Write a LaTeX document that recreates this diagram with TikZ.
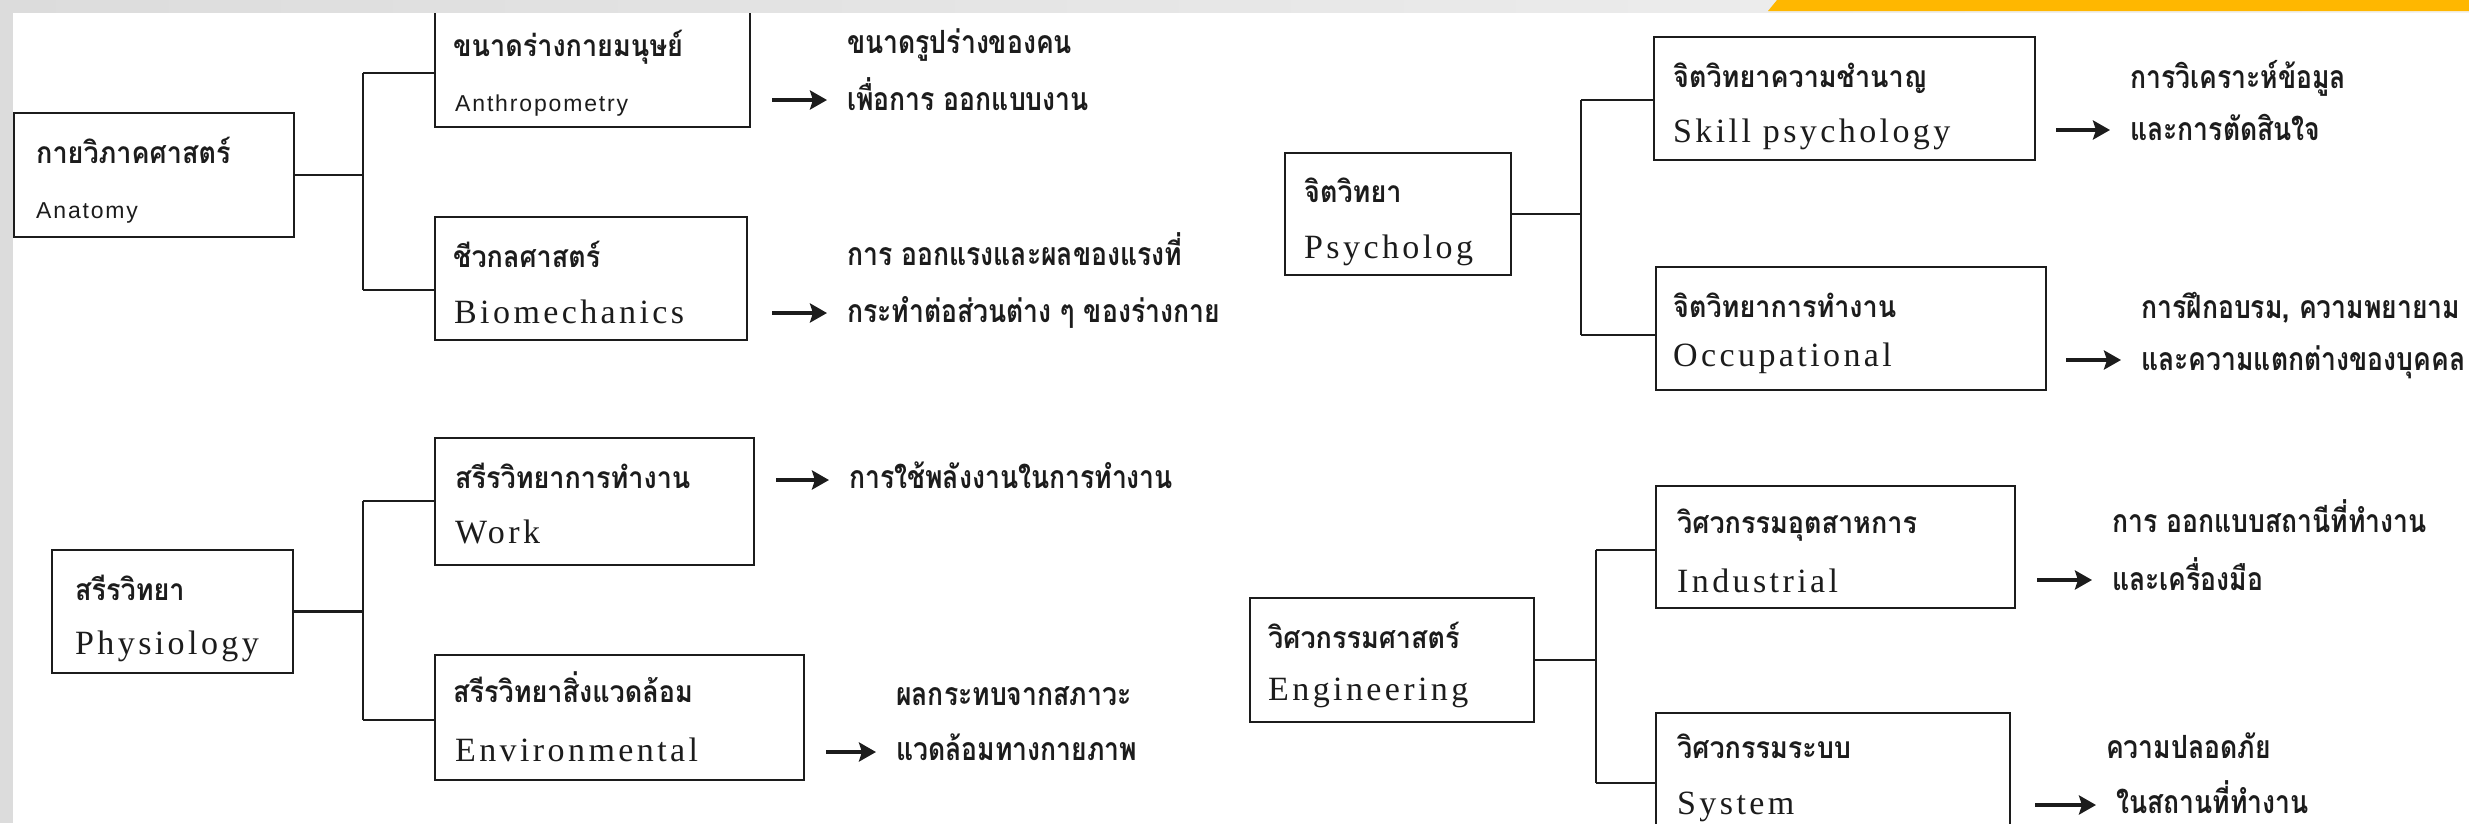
\documentclass[tikz,border=0pt]{standalone}
\usepackage{fontspec}
\usetikzlibrary{arrows.meta,fit}
\newfontfamily\thaititlefont[Script=Thai,FakeStretch=0.9]{Loma}
\newfontfamily\thaidescfont[Script=Thai,FakeStretch=0.83]{Loma}
\newfontfamily\serifen[LetterSpace=10]{Liberation Serif}
\newfontfamily\sansen[LetterSpace=8]{Liberation Sans}
\definecolor{ink}{HTML}{1C1C1C}
\definecolor{bandgray}{HTML}{DCDCDC}
\definecolor{bandlight}{HTML}{F2F2F2}
\definecolor{barorange}{HTML}{FFB700}
\tikzset{
  box/.style={draw=ink, line width=2.6pt, inner sep=0pt, rectangle},
  conn/.style={draw=ink, line width=2.6pt},
  arr/.style={draw=ink, line width=4pt, -{Stealth[length=17pt,width=19pt,inset=3pt]}, shorten >=20pt},
  thtitle/.style={anchor=base west, inner sep=0pt, text=ink, font=\thaititlefont\bfseries\fontsize{30}{32}\selectfont},
  thdesc/.style={anchor=base west, inner sep=0pt, text=ink, font=\thaidescfont\bfseries\fontsize{32}{34}\selectfont},
  sertxt/.style={anchor=base west, inner sep=0pt, text=ink, font=\serifen\fontsize{34}{36}\selectfont},
  sanstxt/.style={anchor=base west, inner sep=0pt, text=ink, font=\sansen\fontsize{23}{25}\selectfont},
}
\begin{document}
\begin{tikzpicture}[x=1pt,y=-1pt]
\useasboundingbox (0,0) rectangle (2469,823);
\begin{scope}
\clip (0,0) rectangle (2469,823);
\fill[white] (0,0) rectangle (2469,823);

% ---------- boxes ----------
\node[box, fit={(14,113) (294,237)}] (anat) {};
\node[box, fit={(435,-5) (750,127)}] (anth) {};
\node[box, fit={(435,217) (747,340)}] (bio) {};
\node[box, fit={(52,550) (293,673)}] (phys) {};
\node[box, fit={(435,438) (754,565)}] (work) {};
\node[box, fit={(435,655) (804,780)}] (env) {};
\node[box, fit={(1285,153) (1511,275)}] (psy) {};
\node[box, fit={(1654,37) (2035,160)}] (skill) {};
\node[box, fit={(1656,267) (2046,390)}] (occ) {};
\node[box, fit={(1250,598) (1534,722)}] (eng) {};
\node[box, fit={(1656,486) (2015,608)}] (ind) {};
\node[box, fit={(1656,713) (2010,860)}] (sys) {};

% ---------- box texts ----------
\node[thtitle] (anatT) at (36,163) {กายวิภาคศาสตร์};
\node[sanstxt] (anatE) at (36,218) {Anatomy};
\node[thtitle] (anthT) at (453,56) {ขนาดร่างกายมนุษย์};
\node[sanstxt] (anthE) at (455,111) {Anthropometry};
\node[thtitle] (bioT) at (453,267) {ชีวกลศาสตร์};
\node[sertxt] (bioE) at (454,323) {Biomechanics};
\node[thtitle] (physT) at (75,600) {สรีรวิทยา};
\node[sertxt] (physE) at (75,654) {Physiology};
\node[thtitle] (workT) at (455,488) {สรีรวิทยาการทำงาน};
\node[sertxt] (workE) at (455,543) {Work};
\node[thtitle] (envT) at (453,702) {สรีรวิทยาสิ่งแวดล้อม};
\node[sertxt] (envE) at (455,761) {Environmental};
\node[thtitle] (psyT) at (1304,202) {จิตวิทยา};
\node[sertxt] (psyE) at (1304,258) {Psycholog};
\node[thtitle] (skillT) at (1673,87) {จิตวิทยาความชำนาญ};
\node[sertxt] (skillE) at (1673,142) {Skill psychology};
\node[thtitle] (occT) at (1673,317) {จิตวิทยาการทำงาน};
\node[sertxt] (occE) at (1673,366) {Occupational};
\node[thtitle] (engT) at (1268,648) {วิศวกรรมศาสตร์};
\node[sertxt] (engE) at (1268,700) {Engineering};
\node[thtitle] (indT) at (1677,533) {วิศวกรรมอุตสาหการ};
\node[sertxt] (indE) at (1677,592) {Industrial};
\node[thtitle] (sysT) at (1677,758) {วิศวกรรมระบบ};
\node[sertxt] (sysE) at (1677,814) {System};

% ---------- descriptions ----------
\node[thdesc] (d1a) at (847,53) {ขนาดรูปร่างของคน};
\node[thdesc] (d1b) at (847,110) {เพื่อการ ออกแบบงาน};
\node[thdesc] (d2a) at (847,265) {การ ออกแรงและผลของแรงที่};
\node[thdesc] (d2b) at (847,322) {กระทำต่อส่วนต่าง ๆ ของร่างกาย};
\node[thdesc] (d3b) at (849,488) {การใช้พลังงานในการทำงาน};
\node[thdesc] (d4a) at (896,705) {ผลกระทบจากสภาวะ};
\node[thdesc] (d4b) at (896,760) {แวดล้อมทางกายภาพ};
\node[thdesc] (d5a) at (2130,88) {การวิเคราะห์ข้อมูล};
\node[thdesc] (d5b) at (2130,140) {และการตัดสินใจ};
\node[thdesc] (d6a) at (2141,318) {การฝึกอบรม, ความพยายาม};
\node[thdesc] (d6b) at (2141,370) {และความแตกต่างของบุคคล};
\node[thdesc] (d7a) at (2112,532) {การ ออกแบบสถานีที่ทำงาน};
\node[thdesc] (d7b) at (2112,590) {และเครื่องมือ};
\node[thdesc] (d8a) at (2106,758) {ความปลอดภัย};
\node[thdesc] (d8b) at (2116,813) {ในสถานที่ทำงาน};

% ---------- tree connectors ----------
\coordinate (a1) at (363,73);  \coordinate (a2) at (363,290);
\coordinate (p1) at (363,501); \coordinate (p2) at (363,720);
\coordinate (s1) at (1581,100); \coordinate (s2) at (1581,335);
\coordinate (e1) at (1596,550); \coordinate (e2) at (1596,783);

\draw[conn] (anat.east) -- (anat.east -| a1);
\draw[conn] (a1) -- (a2);
\draw[conn] (a1) -- (a1 -| anth.west);
\draw[conn] (a2) -- (a2 -| bio.west);

\draw[conn] (phys.east) -- (phys.east -| p1);
\draw[conn] (p1) -- (p2);
\draw[conn] (p1) -- (p1 -| work.west);
\draw[conn] (p2) -- (p2 -| env.west);

\draw[conn] (psy.east) -- (psy.east -| s1);
\draw[conn] (s1) -- (s2);
\draw[conn] (s1) -- (s1 -| skill.west);
\draw[conn] (s2) -- (s2 -| occ.west);

\draw[conn] (eng.east) -- (eng.east -| e1);
\draw[conn] (e1) -- (e2);
\draw[conn] (e1) -- (e1 -| ind.west);
\draw[conn] (e2) -- (e2 -| sys.west);

% ---------- arrows ----------
\coordinate (r1) at (772,100);
\coordinate (r2) at (772,313);
\coordinate (r3) at (776,480);
\coordinate (r4) at (826,752);
\coordinate (r5) at (2056,130);
\coordinate (r6) at (2066,360);
\coordinate (r7) at (2037,580);
\coordinate (r8) at (2035,805);
\draw[arr] (r1) -- (r1 -| d1b.west);
\draw[arr] (r2) -- (r2 -| d2b.west);
\draw[arr] (r3) -- (r3 -| d3b.west);
\draw[arr] (r4) -- (r4 -| d4b.west);
\draw[arr] (r5) -- (r5 -| d5b.west);
\draw[arr] (r6) -- (r6 -| d6b.west);
\draw[arr] (r7) -- (r7 -| d7b.west);
\draw[arr] (r8) -- (r8 -| d8b.west);

% ---------- frame bands ----------
\shade[left color=bandgray, right color=bandlight] (0,0) rectangle (2469,12);
\fill[bandgray] (0,0) rectangle (13,823);
\fill[barorange] (1777,0) -- (2469,0) -- (2469,11) -- (1768,11) -- cycle;
\end{scope}
\end{tikzpicture}
\end{document}
